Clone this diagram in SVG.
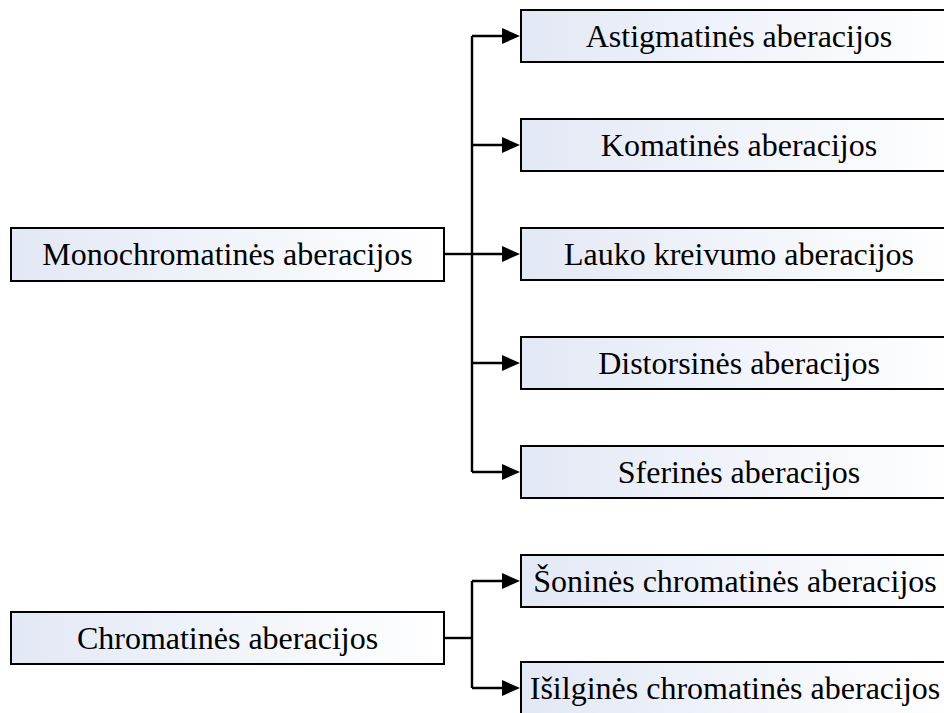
<svg xmlns="http://www.w3.org/2000/svg" width="944" height="713" viewBox="0 0 944 713">
<defs>
<linearGradient id="g" x1="0" y1="0" x2="1" y2="0">
<stop offset="0" stop-color="#e2e8f5"/>
<stop offset="1" stop-color="#ffffff"/>
</linearGradient>
<path id="ah" d="M-18,-8 L0,0 L-18,8 z" fill="#000"/>
<style>
rect{fill:url(#g);stroke:#000;stroke-width:2}
text{font-family:"Liberation Serif","Times New Roman",serif;font-size:32px;fill:#000;text-anchor:middle}
.c{fill:none;stroke:#000;stroke-width:2.4}
</style>
</defs>
<rect x="0" y="0" width="944" height="713" style="fill:#fff;stroke:none"/>
<g id="connectors">
<path class="c" d="M444,254 H472"/>
<path class="c" d="M472,36 V472"/>
<path class="c" d="M472,36 H506"/>
<path class="c" d="M472,145 H506"/>
<path class="c" d="M472,254 H506"/>
<path class="c" d="M472,363 H506"/>
<path class="c" d="M472,472 H506"/>
<path class="c" d="M444,638 H472"/>
<path class="c" d="M472,581 V688"/>
<path class="c" d="M472,581 H506"/>
<path class="c" d="M472,688 H506"/>
<use href="#ah" x="520" y="36"/>
<use href="#ah" x="520" y="145"/>
<use href="#ah" x="520" y="254"/>
<use href="#ah" x="520" y="363"/>
<use href="#ah" x="520" y="472"/>
<use href="#ah" x="520" y="581"/>
<use href="#ah" x="520" y="688"/>
</g>
<g id="mono"><rect x="11" y="228" width="433" height="53"/><text x="227.5" y="265">Monochromatinės aberacijos</text></g>
<g id="astig"><rect x="521" y="10" width="436" height="52"/><text x="739" y="47">Astigmatinės aberacijos</text></g>
<g id="koma"><rect x="521" y="119" width="436" height="52"/><text x="739" y="156">Komatinės aberacijos</text></g>
<g id="lauko"><rect x="521" y="228" width="436" height="52"/><text x="739" y="265">Lauko kreivumo aberacijos</text></g>
<g id="dist"><rect x="521" y="337" width="436" height="52"/><text x="739" y="374">Distorsinės aberacijos</text></g>
<g id="sfer"><rect x="521" y="446" width="436" height="52"/><text x="739" y="483">Sferinės aberacijos</text></g>
<g id="chrom"><rect x="11" y="612" width="433" height="52"/><text x="227.5" y="649">Chromatinės aberacijos</text></g>
<g id="son"><rect x="521" y="555" width="436" height="52"/><text x="735" y="592">Šoninės chromatinės aberacijos</text></g>
<g id="isil"><rect x="521" y="662" width="436" height="52"/><text x="735" y="699">Išilginės chromatinės aberacijos</text></g>
</svg>
